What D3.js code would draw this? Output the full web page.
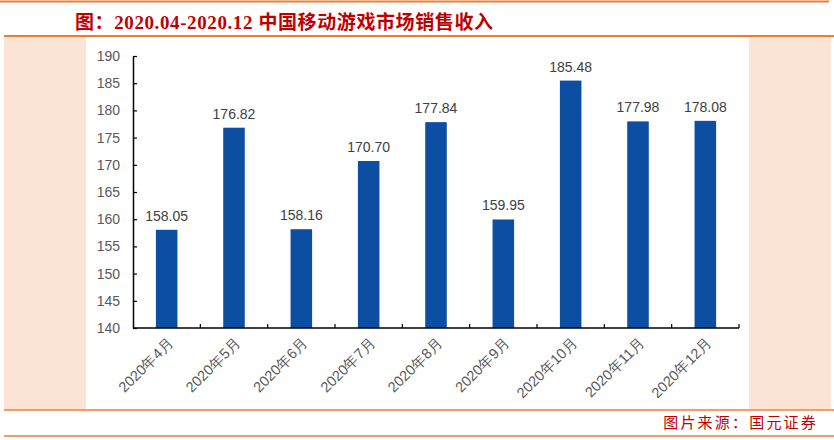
<!DOCTYPE html>
<html><head><meta charset="utf-8">
<script src="https://cdn.jsdelivr.net/npm/d3@7"></script>
<style>body{margin:0;background:#fff}svg{display:block}</style>
</head><body>
<script>
const categories = ["2020年4月","2020年5月","2020年6月","2020年7月","2020年8月","2020年9月","2020年10月","2020年11月","2020年12月"];
const values = [158.05,176.82,158.16,170.70,177.84,159.95,185.48,177.98,178.08];
const valueLabels = ["158.05","176.82","158.16","170.70","177.84","159.95","185.48","177.98","178.08"];
const yTicks = [140,145,150,155,160,165,170,175,180,185,190];
const titleText = "图：2020.04-2020.12 中国移动游戏市场销售收入";
const sourceText = "图片来源：国元证券";

const W = 834, H = 440;
const svg = d3.select("body").append("svg").attr("width", W).attr("height", H);
const orange = "#ED7D31", peach = "#FBE4D5", red = "#C00000";

svg.append("rect").attr("width", W).attr("height", H).attr("fill", "#fff");
svg.append("rect").attr("x", 4).attr("y", 37).attr("width", 82).attr("height", 372).attr("fill", peach);
svg.append("rect").attr("x", 749).attr("y", 37).attr("width", 82).attr("height", 372).attr("fill", peach);
svg.append("line").attr("x1", 0).attr("x2", 829).attr("y1", 1.5).attr("y2", 1.5).attr("stroke", orange).attr("stroke-width", 2);
svg.append("line").attr("x1", 4).attr("x2", 834).attr("y1", 36).attr("y2", 36).attr("stroke", orange).attr("stroke-width", 2);
svg.append("line").attr("x1", 4).attr("x2", 834).attr("y1", 410).attr("y2", 410).attr("stroke", orange).attr("stroke-width", 1.5);
svg.append("line").attr("x1", 4).attr("x2", 834).attr("y1", 436).attr("y2", 436).attr("stroke", orange).attr("stroke-width", 1.5);

svg.append("text").attr("x", 75).attr("y", 29)
  .attr("font-family", "'Liberation Serif','Noto Sans CJK SC',serif").attr("font-weight", "bold")
  .attr("font-size", 19).attr("letter-spacing", 0.6).attr("fill", red).text(titleText);

svg.append("text").attr("x", 818).attr("y", 428).attr("text-anchor", "end")
  .attr("font-family", "'Noto Sans CJK SC',sans-serif").attr("font-size", 15)
  .attr("letter-spacing", 2.2).attr("fill", red).text(sourceText);

const x = d3.scaleBand().domain(categories).range([133, 739]).paddingInner(0.68).paddingOuter(0.34);
const y = d3.scaleLinear().domain([140, 190]).range([328, 56]);
const font = "'Liberation Sans',Arial,sans-serif";

svg.selectAll("rect.bar").data(values).join("rect").attr("class", "bar")
  .attr("x", (d, i) => x(categories[i])).attr("width", x.bandwidth())
  .attr("y", d => y(d)).attr("height", d => y(140) - y(d)).attr("fill", "#0B4EA2");

svg.selectAll("text.val").data(values).join("text").attr("class", "val")
  .attr("x", (d, i) => x(categories[i]) + x.bandwidth() / 2).attr("y", d => y(d) - 9)
  .attr("text-anchor", "middle").attr("font-family", font).attr("font-size", 14).attr("fill", "#404040")
  .text((d, i) => valueLabels[i]);

// y axis
const yAxis = svg.append("g").attr("transform", "translate(133,0)")
  .call(d3.axisLeft(y).tickValues(yTicks).tickSizeInner(-4).tickSizeOuter(0).tickPadding(13));
yAxis.select(".domain").attr("stroke", "#000").attr("stroke-width", 1.5);
yAxis.selectAll(".tick line").attr("stroke", "#000").attr("stroke-width", 1.2);
yAxis.selectAll(".tick text").attr("font-family", font).attr("font-size", 14).attr("fill", "#595959");

// x axis
const step = x.step();
const bounds = d3.range(categories.length + 1).map(i => 133 + i * step);
const xg = svg.append("g");
xg.append("line").attr("x1", 133).attr("x2", 739).attr("y1", 328).attr("y2", 328).attr("stroke", "#000").attr("stroke-width", 1.5);
xg.selectAll("line.tk").data(bounds.slice(1)).join("line").attr("class", "tk")
  .attr("x1", d => d).attr("x2", d => d).attr("y1", 328).attr("y2", 324).attr("stroke", "#000").attr("stroke-width", 1.2);
xg.selectAll("text").data(categories).join("text")
  .attr("transform", d => `translate(${x(d) + x.bandwidth() / 2 + 4},${340}) rotate(-45)`)
  .attr("text-anchor", "end").attr("dy", "0.35em")
  .attr("font-family", font).attr("font-size", 14.5).attr("fill", "#595959").text(d => d);
</script>
</body></html>
